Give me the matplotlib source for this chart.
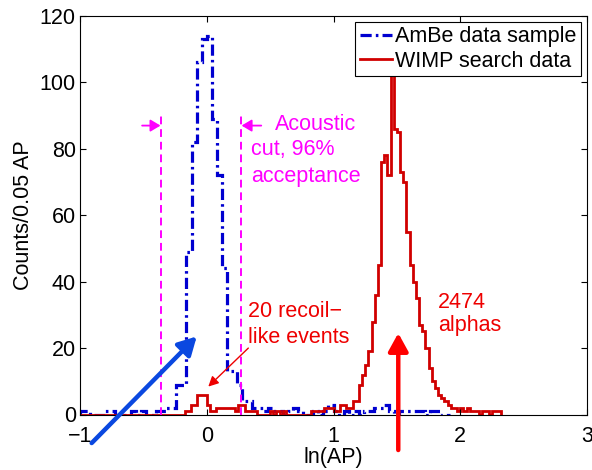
import matplotlib.pyplot as plt
import numpy as np

plt.rcParams['font.family'] = ['Liberation Sans', 'DejaVu Sans']
plt.rcParams['font.size'] = 15.5

# AmBe calibration sample, 0.04 wide bins starting at ln(AP) = -1
ambe_start, ambe_width = -1.0, 0.04
ambe_counts = [1, 1, 0, 0, 0, 1, 1, 0, 0, 0,
               1, 0, 1, 0, 0, 1, 1, 2, 2, 9,
               9, 49, 82, 106, 113, 114, 89, 72, 44, 13,
               13, 9, 4, 4, 2, 2, 1, 2, 1, 1,
               0, 1, 2, 1, 0, 0, 1, 0, 1, 3,
               1, 0, 1, 0, 1, 0, 1, 1, 2, 2,
               3, 1, 0, 1, 1, 1, 1, 1, 0, 1,
               1, 0, 0]

# WIMP search data: one empty bin from -1 to -0.2, then 0.025 wide bins
wimp_start, wimp_fine_start, wimp_width = -1.0, -0.2, 0.025
wimp_counts = [0,
               0, 1, 1, 3, 3, 6, 6, 6, 3, 1,
               1, 2, 2, 2, 2, 2, 2, 1, 3, 3,
               1, 1, 1, 1, 0, 0, 0, 0, 1, 0,
               1, 0, 1, 0, 0, 0, 0, 0, 0, 0,
               0, 1, 1, 1, 1, 2, 2, 2, 1, 1,
               3, 3, 2, 2, 4, 4, 9, 12, 15, 19,
               28, 36, 45, 76, 78, 72, 104, 86, 85, 73,
               70, 55, 45, 40, 35, 27, 25, 20, 14, 10,
               8, 6, 5, 4, 3, 2, 2, 1, 2, 1,
               2, 1, 1, 1, 0, 1, 1, 0, 1, 1,
               1]

cut_low, cut_high = -0.36, 0.27

ambe_edges = ambe_start + ambe_width * np.arange(len(ambe_counts) + 1)
wimp_edges = np.r_[wimp_start, wimp_fine_start + wimp_width * np.arange(len(wimp_counts))]

fig = plt.figure(figsize=(5.92, 4.70), dpi=100)
ax = fig.add_axes([80 / 592, 1 - 414.5 / 470, 507 / 592, 398.5 / 470])

ax.stairs(ambe_counts, ambe_edges, color='#0000d0', lw=2.3,
          linestyle=(0, (3.5, 1.3, 0.8, 1.3)), label='AmBe data sample')
ax.stairs(wimp_counts, wimp_edges, color='#d00000', lw=2.0,
          label='WIMP search data')

# acoustic cut
mag = '#ff00ff'
ax.vlines([cut_low, cut_high], 0, 90, colors=mag, lw=1.4, linestyles=(0, (4, 2.5)))
ax.annotate('', xy=(cut_low - 0.005, 87), xytext=(cut_low - 0.15, 87),
            arrowprops=dict(arrowstyle='-|>,head_length=0.5,head_width=0.3', color=mag,
                            lw=1.3, shrinkA=0, shrinkB=0, mutation_scale=12))
ax.annotate('', xy=(cut_high + 0.005, 87), xytext=(cut_high + 0.16, 87),
            arrowprops=dict(arrowstyle='-|>,head_length=0.5,head_width=0.3', color=mag,
                            lw=1.3, shrinkA=0, shrinkB=0, mutation_scale=12))
ax.text(0.538, 85.8, 'Acoustic', color=mag, va='baseline')
ax.text(0.353, 78.2, 'cut, 96%', color=mag, va='baseline')
ax.text(0.353, 70.1, 'acceptance', color=mag, va='baseline')

# recoil-like events
ax.text(0.328, 29.5, '20 recoil\u2212', color='#ee0000', va='baseline')
ax.text(0.328, 21.5, 'like events', color='#ee0000', va='baseline')
ax.annotate('', xy=(0.012, 8.4), xytext=(0.328, 20),
            arrowprops=dict(arrowstyle='-|>,head_length=0.5,head_width=0.25', color='#ee0000',
                            lw=1.0, shrinkA=0, shrinkB=0, mutation_scale=12))

# alphas
ax.text(1.824, 32.1, '2474', color='#ee0000', va='baseline')
ax.text(1.824, 25.2, 'alphas', color='#ee0000', va='baseline')
ax.annotate('', xy=(1.511, 24.5), xytext=(1.511, -10.7), annotation_clip=False,
            arrowprops=dict(arrowstyle='-|>,head_length=0.4,head_width=0.22', color='#ff0000',
                            lw=3.2, shrinkA=0, shrinkB=0, mutation_scale=27))
ax.annotate('', xy=(-0.079, 23.5), xytext=(-0.908, -8.6), annotation_clip=False,
            arrowprops=dict(arrowstyle='-|>,head_length=0.4,head_width=0.22', color='#0a48e0',
                            lw=3.2, shrinkA=0, shrinkB=0, mutation_scale=27))

ax.set_xlim(-1, 3)
ax.set_ylim(0, 120)
ax.set_xticks([-1, 0, 1, 2, 3])
ax.set_yticks(range(0, 121, 20))
ax.tick_params(direction='in', top=True, right=True, length=4, width=0.8, pad=3)
ax.tick_params(axis='x', pad=8.5)
for s in ax.spines.values():
    s.set_linewidth(0.8)
ax.set_xlabel('ln(AP)', labelpad=0)
ax.set_ylabel('Counts/0.05 AP', labelpad=4)

leg = ax.legend(loc='upper right', fancybox=False, edgecolor='black', framealpha=1,
                borderaxespad=0.28, handlelength=1.5, handletextpad=0.15,
                labelspacing=0.15, borderpad=0.2)
leg.get_frame().set_linewidth(0.8)

plt.savefig('out.png', dpi=100)
